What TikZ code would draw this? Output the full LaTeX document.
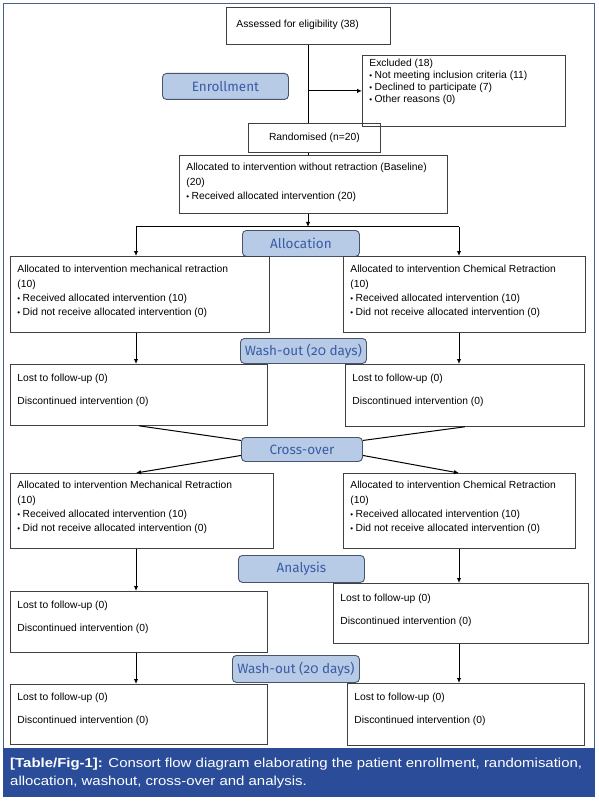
\documentclass[tikz,border=0pt]{standalone}
\usepackage{fontspec}
\setmainfont{Liberation Sans}
\newfontfamily\stagefont[Numbers=OldStyle]{Fira Sans}
\newfontfamily\capfont[FakeStretch=1.15]{Liberation Sans}
\usetikzlibrary{positioning,arrows.meta,calc}

\definecolor{capblue}{RGB}{43,77,153}
\definecolor{stagefill}{RGB}{183,202,230}
\definecolor{stageline}{RGB}{72,84,108}
\definecolor{stageink}{RGB}{58,92,165}
\definecolor{framecol}{RGB}{64,96,150}

% small bullet and top-aligned box body (width, height, top gap, text)
\newcommand{\bul}{{\fontsize{8}{8}\selectfont\textbullet}\hspace{2.5pt}}
\newcommand{\boxtext}[4]{\parbox[c][#2][t]{#1}{\raggedright\vspace*{#3}#4}}

\tikzset{
  card/.style={rectangle,draw=black!75,line width=0.8pt,anchor=north west,
    inner xsep=7pt,inner ysep=0pt,font=\fontsize{10.3}{14.3}\selectfont},
  stage/.style={rectangle,rounded corners=4pt,draw=stageline,fill=stagefill,line width=0.9pt,
    anchor=north west,inner sep=0pt,text=stageink,font=\stagefont\fontsize{13.5}{14}\selectfont},
  flow/.style={-{Latex[length=5pt,width=4.5pt]},line width=1pt},
  link/.style={line width=1pt},
}

\begin{document}
\begin{tikzpicture}[x=1pt,y=-1pt]
  \useasboundingbox (0,0) rectangle (598,802);
  \draw[framecol,line width=0.8pt] (3,3) rectangle (594,748);
  \fill[capblue] (2.5,748) rectangle (594.5,797);

  \coordinate (spine) at (308,0);
  \coordinate (lcol) at (136,0);
  \coordinate (rcol) at (459,0);
  \coordinate (split) at (308,227);

  % enrollment
  \node[card] (assess) at (226,7) {\boxtext{150pt}{37pt}{13pt}{\hspace*{3pt}Assessed for eligibility (38)}};
  \node[card] (excl) at (362,55) {\boxtext{189pt}{71pt}{4pt}{\fontsize{10.3}{12}\selectfont
    Excluded (18)\\\bul Not meeting inclusion criteria (11)\\\bul Declined to participate (7)\\\bul Other reasons (0)}};
  \node[stage,minimum width=126pt,minimum height=26pt] (enroll) at (162,73) {Enrollment};
  \node[card,minimum width=132pt,minimum height=29pt] (rand) at (248,123) {Randomised (n=20)};
  \node[card] (base) at (179,155) {\boxtext{254pt}{58pt}{8pt}{Allocated to intervention without retraction (Baseline)\\(20)\\\bul Received allocated intervention (20)}};

  % allocation
  \node[stage,minimum width=117pt,minimum height=26pt] (alloc) at (242,230) {Allocation};
  \node[card] (l1) at (10,256) {\boxtext{245pt}{76pt}{9pt}{Allocated to intervention mechanical retraction\\(10)\\\bul Received allocated intervention (10)\\\bul Did not receive allocated intervention (0)}};
  \node[card] (r1) at (343,256) {\boxtext{228pt}{76pt}{9pt}{Allocated to intervention Chemical Retraction\\(10)\\\bul Received allocated intervention (10)\\\bul Did not receive allocated intervention (0)}};

  \node[stage,minimum width=126pt,minimum height=25pt] (wash1) at (240,338) {Wash-out (20 days)};
  \node[card] (l2) at (10,364) {\boxtext{243pt}{61pt}{10pt}{Lost to follow-up (0)\\[8pt]Discontinued intervention (0)}};
  \node[card] (r2) at (345,364) {\boxtext{225pt}{62pt}{10pt}{Lost to follow-up (0)\\[8pt]Discontinued intervention (0)}};

  % cross-over
  \node[stage,minimum width=121pt,minimum height=24pt] (cross) at (241,437) {Cross-over};
  \node[card] (l3) at (10,473) {\boxtext{249pt}{75pt}{8pt}{Allocated to intervention Mechanical Retraction\\(10)\\\bul Received allocated intervention (10)\\\bul Did not receive allocated intervention (0)}};
  \node[card] (r3) at (343,473) {\boxtext{218pt}{75pt}{8pt}{Allocated to intervention Chemical Retraction\\(10)\\\bul Received allocated intervention (10)\\\bul Did not receive allocated intervention (0)}};

  % analysis
  \node[stage,minimum width=126pt,minimum height=27pt] (analysis) at (238,555) {Analysis};
  \node[card] (l4) at (10,591) {\boxtext{243pt}{61pt}{10pt}{Lost to follow-up (0)\\[8pt]Discontinued intervention (0)}};
  \node[card] (r4) at (333,583) {\boxtext{241pt}{60pt}{11pt}{Lost to follow-up (0)\\[8pt]Discontinued intervention (0)}};

  \node[stage,minimum width=127pt,minimum height=27pt] (wash2) at (232,655) {Wash-out (20 days)};
  \node[card] (l5) at (10,684) {\boxtext{243pt}{60pt}{9pt}{Lost to follow-up (0)\\[8pt]Discontinued intervention (0)}};
  \node[card] (r5) at (347,683) {\boxtext{223pt}{62pt}{10pt}{Lost to follow-up (0)\\[8pt]Discontinued intervention (0)}};

  % connectors
  \draw[link] (assess.south -| spine) -- (rand.north -| spine);
  \draw[flow] (excl.west -| spine) -- (excl.west);
  \draw[link] (rand.south -| spine) -- (base.north -| spine);
  \draw[flow] (base.south -| spine) -- (split);
  \draw[link] (split -| lcol) -- (split -| rcol);
  \draw[flow] (split -| lcol) -- (l1.north -| lcol);
  \draw[flow] (split -| rcol) -- (r1.north -| rcol);
  \draw[flow] (l1.south -| lcol) -- (l2.north -| lcol);
  \draw[flow] (r1.south -| rcol) -- (r2.north -| rcol);
  \draw[link] (l2.south) -- ([yshift=9pt]cross.west);
  \draw[link] (r2.south) -- ([yshift=9pt]cross.east);
  \draw[flow] ([yshift=-6pt]cross.west) -- (l3.north -| lcol);
  \draw[flow] ([yshift=-6pt]cross.east) -- (r3.north -| rcol);
  \draw[flow] (l3.south -| lcol) -- (l4.north -| lcol);
  \draw[flow] (r3.south -| rcol) -- (r4.north -| rcol);
  \draw[flow] (l4.south -| lcol) -- (l5.north -| lcol);
  \draw[flow] (r4.south -| rcol) -- (r5.north -| rcol);

  \node[anchor=north west,inner sep=0pt,text=white,align=left,
    font=\capfont\fontsize{13}{18}\selectfont] (caption) at (10,758)
    {\textbf{[Table/Fig-1]:} Consort flow diagram elaborating the patient enrollment, randomisation,\\
     allocation, washout, cross-over and analysis.};
\end{tikzpicture}
\end{document}
